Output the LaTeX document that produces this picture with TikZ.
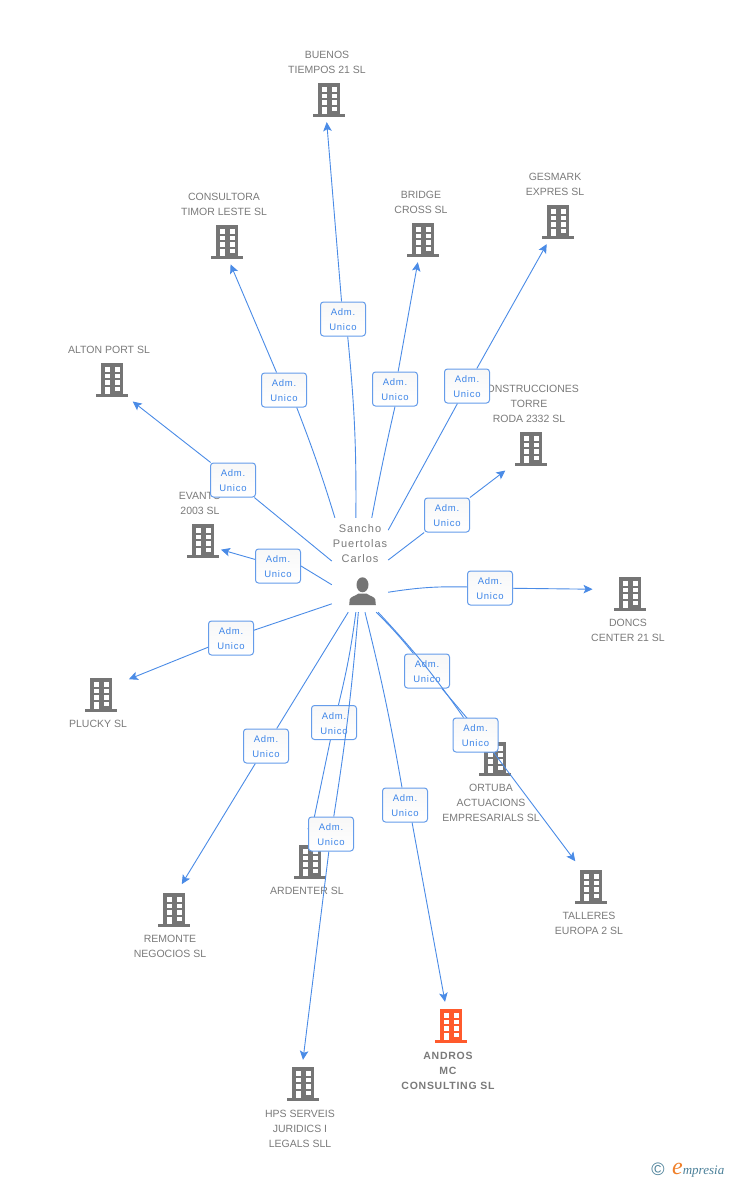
\documentclass[tikz,border=0pt]{standalone}
\usepackage{fontspec}
\usepackage{xcolor}
\usepackage{tikz}
\usetikzlibrary{arrows.meta}
\setmainfont{Liberation Sans}
\newfontfamily\capfont{Liberation Sans}
\newfontfamily\capboldfont[LetterSpace=7]{Liberation Sans}
\newfontfamily\namefont[LetterSpace=9]{Liberation Sans}
\newfontfamily\admfont[LetterSpace=8]{Liberation Sans}
\newfontfamily\brandfont{Liberation Serif}
\definecolor{bldgray}{HTML}{757575}
\definecolor{bldorange}{HTML}{FF5A2C}
\definecolor{txtgray}{HTML}{7A7A7A}
\definecolor{linkblue}{HTML}{4A8BE6}
\definecolor{admblue}{HTML}{3D85E8}
\definecolor{brandteal}{HTML}{4A7F98}
\definecolor{brandorange}{HTML}{F0802A}
\pgfdeclarelayer{admlow}
\pgfdeclarelayer{linkhigh}
\pgfdeclarelayer{admhigh}
\pgfsetlayers{main,admlow,linkhigh,admhigh}
\newcommand{\admtext}{\rule{0pt}{9pt}Adm.\hspace{6pt}\\Unico}

\begin{document}
\begin{tikzpicture}[x=1pt,y=-1pt,
	link/.style = {linkblue,line width=0.9pt},
	arrow/.style = {link,-{Stealth[length=9pt,width=8.5pt,inset=2pt]}},
	adm/.style = {draw=linkblue!85,line width=1pt,rounded corners=3pt,top color=black!3,bottom color=white,minimum width=45pt,minimum height=34pt,inner sep=0pt,align=center,text=admblue,font=\admfont\fontsize{9.5}{15}\selectfont},
	caption/.style = {align=center,text=txtgray,inner sep=0pt,font=\capfont\fontsize{10.5}{15}\selectfont}]
	\tikzset{building/.style={circle,minimum size=48pt,inner sep=0pt,path picture={
		\begin{scope}[shift={(path picture bounding box.center)}]
			\fill[#1] (-11.3,-17) rectangle (11.3,15);
			\fill[#1] (-16,14.2) rectangle (16,17);
			\foreach \wx in {-7.3,2.7} \foreach \wy in {-12.7,-6.2,0.3} \fill[white] (\wx,\wy) rectangle ++(5,4.3);
			\fill[white] (2.7,7) rectangle ++(5,4.3);
			\fill[white] (-7.3,6.7) rectangle (-2.3,14.2);
		\end{scope}}},
		building/.default=bldgray}

	\useasboundingbox (0,0) rectangle (728,1180);

	% Buildings
	\node[building] (buenos) at (329,100) {};
	\node[building] (consultora) at (227,242) {};
	\node[building] (bridge) at (423,240) {};
	\node[building] (gesmark) at (558,222) {};
	\node[building] (alton) at (112,380) {};
	\node[building] (construcciones) at (531,449) {};
	\node[building] (evanto) at (203,541) {};
	\node[building] (doncs) at (630,594) {};
	\node[building] (plucky) at (101,695) {};
	\node[building] (ortuba) at (495,759) {};
	\node[building] (ardenter) at (310,862) {};
	\node[building] (remonte) at (174,910) {};
	\node[building] (talleres) at (591,887) {};
	\node[building=bldorange] (andros) at (451,1026) {};
	\node[building] (hps) at (303,1084) {};

	% Captions
	\node[caption, above of=buenos, node distance=38pt, xshift=-2pt] (buenoscap) {BUENOS\\TIEMPOS 21 SL};
	\node[caption, above of=consultora, node distance=38pt, xshift=-3pt] (consultoracap) {CONSULTORA\\TIMOR LESTE SL};
	\node[caption, above of=bridge, node distance=38pt, xshift=-2pt] (bridgecap) {BRIDGE\\CROSS SL};
	\node[caption, above of=gesmark, node distance=38pt, xshift=-3pt] (gesmarkcap) {GESMARK\\EXPRES SL};
	\node[caption, above of=alton, node distance=30.5pt, xshift=-3pt] (altoncap) {ALTON PORT SL};
	\node[caption, above of=construcciones, node distance=45.5pt, xshift=-2pt] (construccionescap) {CONSTRUCCIONES\\TORRE\\RODA 2332 SL};
	\node[caption, above of=evanto, node distance=38pt, xshift=-3pt] (evantocap) {EVANTO\\2003 SL};
	\node[caption, below of=doncs, node distance=36.5pt, xshift=-2pt] (doncscap) {DONCS\\CENTER 21 SL};
	\node[caption, below of=plucky, node distance=29pt, xshift=-3pt] (pluckycap) {PLUCKY SL};
	\node[caption, below of=ortuba, node distance=44pt, xshift=-4pt] (ortubacap) {ORTUBA\\ACTUACIONS\\EMPRESARIALS SL};
	\node[caption, below of=ardenter, node distance=29pt, xshift=-3pt] (ardentercap) {ARDENTER SL};
	\node[caption, below of=remonte, node distance=36.5pt, xshift=-4pt] (remontecap) {REMONTE\\NEGOCIOS SL};
	\node[caption, below of=talleres, node distance=36.5pt, xshift=-2pt] (tallerescap) {TALLERES\\EUROPA 2 SL};
	\node[caption, below of=andros, node distance=45pt, xshift=-3pt, font=\capboldfont\bfseries\fontsize{10.5}{15}\selectfont] (androscap) {ANDROS\\MC\\CONSULTING SL};
	\node[caption, below of=hps, node distance=45pt, xshift=-3pt] (hpscap) {HPS SERVEIS\\JURIDICS I\\LEGALS SLL};

	% Person
	\node[minimum width=56pt, minimum height=94pt, inner sep=0pt, path picture={
		\begin{scope}[shift={(path picture bounding box.center)}]
			\fill[bldgray] (2.5,19.8) ellipse [x radius=6, y radius=7.5];
			\fill[bldgray] (-10.8,40) -- (-10.3,34.5) .. controls (-9.5,31.5) and (-4.5,31) .. (-1.5,28.5) -- (6.5,28.5) .. controls (9.5,31) and (14.5,31.5) .. (15.3,34.5) -- (15.8,40) -- cycle;
		\end{scope}}] (person) at (360,565) {};
	\node[align=center, inner sep=0pt, text=txtgray, font=\namefont\fontsize{11}{15}\selectfont] (personname) at (360,544) {Sancho\\Puertolas\\Carlos};

	% Adm. Unico boxes
	\begin{pgfonlayer}{admlow}
		\node[adm] (admbuenos) at (343,319) {\admtext};
		\node[adm] (admconsultora) at (284,390) {\admtext};
		\node[adm] (admbridge) at (395,389) {\admtext};
		\node[adm] (admgesmark) at (467,386) {\admtext};
		\node[adm] (admalton) at (233,480) {\admtext};
		\node[adm] (admconstrucciones) at (447,515) {\admtext};
		\node[adm] (admevanto) at (278,566) {\admtext};
		\node[adm] (admdoncs) at (490,588) {\admtext};
		\node[adm] (admplucky) at (231,638) {\admtext};
		\node[adm] (admortuba) at (427,671) {\admtext};
		\node[adm] (admremonte) at (266,746) {\admtext};
		\node[adm] (admardenter) at (334,722.5) {\admtext};
		\node[adm] (admandros) at (405,805) {\admtext};
	\end{pgfonlayer}
	\begin{pgfonlayer}{admhigh}
		\node[adm] (admtalleres) at (475.5,735) {\admtext};
		\node[adm] (admhps) at (331,834) {\admtext};
	\end{pgfonlayer}

	% Arrows
	\draw [link] (person.95) to[bend right=3] (admbuenos.-75);
	\draw [arrow, shorten >=-2pt] (admbuenos) -- (buenos.265);
	\draw [link] (person.118) to[bend right=2] (admconsultora.-54);
	\draw [arrow, shorten >=-1.6pt] (admconsultora) -- (consultora.280);
	\draw [link] (person.76) to[bend left=1] (admbridge.south);
	\draw [arrow, shorten >=-1.4pt] (admbridge) -- (bridge.257);
	\draw [link] (person.51) -- (admgesmark);
	\draw [arrow, shorten >=0.6pt] (admgesmark) -- (gesmark.243);
	\draw [link] (person.172) -- (admalton);
	\draw [arrow, shorten >=5.7pt] (admalton) -- (alton.-48);
	\draw [link] (person.10) -- (admconstrucciones);
	\draw [arrow, shorten >=9.3pt] (admconstrucciones) -- (construcciones.221);
	\draw [link] (person.215) -- (admevanto.east);
	\draw [arrow, shorten >=-4.3pt] (admevanto) -- (evanto.-24);
	\draw [link] (person.-44) to[bend left=5] (admdoncs);
	\draw [arrow, shorten >=13.7pt] (admdoncs) -- (doncs.169);
	\draw [link] (person.234) -- (admplucky);
	\draw [arrow, shorten >=7.9pt] (admplucky) -- (plucky.32);
	\draw [link] (person.-104) -- (admremonte);
	\draw [arrow, shorten >=2.9pt] (admremonte) -- (remonte.75);
	\draw [link] (person.-95) to[bend left=3] (admardenter);
	\draw [arrow] (admardenter) -- (ardenter.90);
	\draw [link] (person.-84) to[bend left=2] (admandros);
	\draw [arrow, shorten >=0.7pt] (admandros.-68) -- (andros.104);
	\draw [link] (person.-71) to[bend left=3] (admortuba);
	\draw [arrow] (admortuba) -- (ortuba.118);
	\begin{pgfonlayer}{linkhigh}
		\draw [link] (person.-69) to[bend left=4] (admtalleres);
		\draw [arrow, shorten >=6pt] (admtalleres.-44) -- (talleres.120);
		\draw [link] (person.-92) to[bend left=2] (admhps);
		\draw [arrow] (admhps) -- (hps.90);
	\end{pgfonlayer}

	% Footer
	\node[inner sep=0pt, text=brandteal, font=\fontsize{18}{18}\selectfont] (copyright) at (658,1169) {©};
	\node[anchor=base west, inner sep=0pt, font=\brandfont\itshape] (brand) at (672,1174) {{\fontsize{24}{24}\selectfont\color{brandorange}e}{\fontsize{13}{13}\selectfont\color{brandteal}mpresia}};
\end{tikzpicture}
\end{document}
